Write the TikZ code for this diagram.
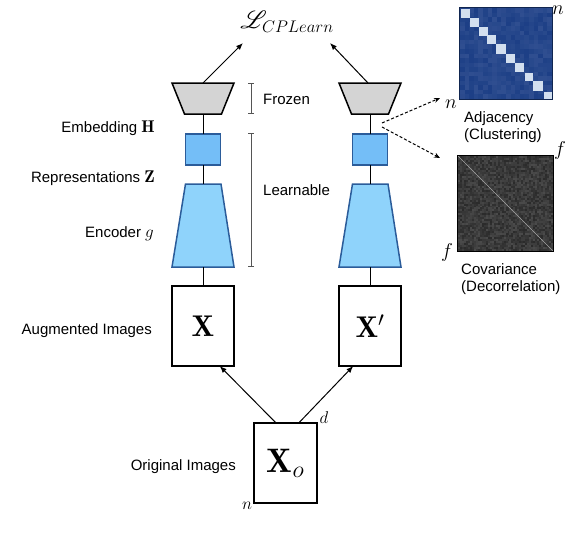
\RequirePackage{fix-cm}
\documentclass[tikz,border=0pt]{standalone}
\usepackage{fontspec}
\usepackage{amsmath}
\usepackage{amssymb}
\usepackage{mathrsfs}
\usetikzlibrary{arrows.meta,calc}
\newfontfamily\helv{Liberation Sans}

\definecolor{headgray}{HTML}{D4D4D4}
\definecolor{embblue}{HTML}{74BEF7}
\definecolor{encblue}{HTML}{8FD3FB}
\definecolor{edgeblue}{HTML}{2B5C9A}
\definecolor{adjblue}{HTML}{1D3F86}
\definecolor{adjdiag}{HTML}{D2DFEF}
\definecolor{bargray}{HTML}{555555}

\newcommand{\lblmath}[1]{{\fontsize{17}{18}\selectfont$#1$}}

\tikzset{
    lbl/.style={font=\helv\fontsize{15}{17.5}\selectfont, inner sep=0pt},
    sym/.style={font=\fontsize{20}{22}\selectfont, inner sep=0pt},
    head/.style={draw, fill=headgray, line width=1.5, line join=miter},
    emb/.style={draw=edgeblue, rectangle, minimum width=35, minimum height=31,
        fill=embblue, line width=1.5, inner sep=0pt, outer sep=0pt},
    enc/.style={draw=edgeblue, fill=encblue, line width=1.5},
    imgbox/.style={draw, rectangle, minimum width=62, minimum height=80,
        line width=1.5, inner sep=0pt, outer sep=0pt},
    arr/.style={-{Latex[length=7,width=5.5]}, line width=1},
    dotarr/.style={-{Stealth[length=6,width=5]}, line width=1, densely dashed},
    brace/.style={{Bar[width=6]}-{Bar[width=6]}, line width=0.8, draw=bargray}
}

\begin{document}
\begin{tikzpicture}[x=1pt, y=-1pt]
    \useasboundingbox (0,0) rectangle (568,546);

    % two branches
    \foreach \s/\x in {l/203, r/370}
        {
            \draw[head] (\x-31, 83) -- (\x+31, 83) -- (\x+18.5, 114) -- (\x-18.5, 114) -- cycle;
            \coordinate (headtop\s) at (\x, 83);
            \coordinate (headbot\s) at (\x, 114);
            \node[name=emb\s, emb] at (\x, 149.5) {};
            \draw[enc] (\x-17.5, 184) -- (\x+18, 184) -- (\x+31, 267) -- (\x-31, 267) -- cycle;
            \coordinate (enctop\s) at (\x, 184);
            \coordinate (encbot\s) at (\x, 267);
            \draw[line width=1] (headbot\s) -- (emb\s.north);
            \draw[line width=1] (emb\s.south) -- (enctop\s);
        }
    \node[name=xl, imgbox, font=\fontsize{30}{32}\selectfont] at (203, 326) {$\mathbf{X}$};
    \node[name=xr, imgbox, font=\fontsize{30}{32}\selectfont] at (370, 326) {$\mathbf{X}'$};
    \node[name=xo, imgbox, minimum width=63, font=\fontsize{34}{36}\selectfont] at (285.5, 463) {$\mathbf{X}_o$};
    \draw[line width=1] (encbotl) -- (xl.north);
    \draw[line width=1] (encbotr) -- (xr.north);

    \draw[arr] ($(xo.north west)!0.35!(xo.north east)$) -- ($(xl.south west)!0.77!(xl.south east)$);
    \draw[arr] ($(xo.north west)!0.71!(xo.north east)$) -- ($(xr.south west)!0.23!(xr.south east)$);
    \node[name=dlab, sym, font=\fontsize{17}{18}\selectfont] at (324, 418) {$d$};
    \node[name=nlab, sym, font=\fontsize{17}{18}\selectfont] at (247, 506) {$n$};

    % loss
    \node[name=loss, inner sep=0pt, font=\fontsize{24}{26}\selectfont] at (287, 22) {$\mathscr{L}_{CPLearn}$};
    \coordinate (lossl) at (243, 43);
    \coordinate (lossr) at (330, 43);
    \draw[arr] (headtopl) -- (lossl);
    \draw[arr] ([xshift=-2]headtopr) -- (lossr);

    % brackets
    \draw[brace] (251, 83) -- (251, 114);
    \draw[brace] (251, 133) -- (251, 267);
    \node[name=frozen, lbl, anchor=base west] at (263, 104) {Frozen};
    \node[name=learn, lbl, anchor=base west] at (263, 195) {Learnable};

    % left labels
    \node[name=lemb, lbl, anchor=base east] at (155, 132) {Embedding \lblmath{\mathbf{H}}};
    \node[name=lrep, lbl, anchor=base east] at (155, 182) {Representations \lblmath{\mathbf{Z}}};
    \node[name=lenc, lbl, anchor=base east] at (154, 237) {Encoder \lblmath{g}};
    \node[name=laug, lbl, anchor=base east] at (152, 334) {Augmented Images};
    \node[name=lorig, lbl, anchor=base east] at (236, 470) {Original Images};

    % adjacency matrix
    \node[name=adj, draw, rectangle, minimum width=92, minimum height=91, fill=adjblue,
        inner sep=0pt, line width=0.8] at (506, 53.5) {};
    \pgfmathsetseed{11}
    \foreach \i in {0,...,19}
        \foreach \j in {0,...,19}
            {
                \pgfmathrandominteger{\r}{0}{8}
                \fill[white!\r!adjblue] (460+\i*4.6, 8+\j*4.55) rectangle +(4.7, 4.65);
            }
    \foreach \a/\b in {461/469.5, 470/479, 479/487.5, 487/495.5, 496/506, 506/514.5, 515/524, 525/532.5, 533/543, 544/551.5}
        {
            \fill[adjdiag] (\a, \a-452) rectangle (\b, \b-452);
        }
    \draw[line width=0.8, draw=adjblue!60!black] (adj.north west) rectangle (adj.south east);
    \node[name=adjn1, sym] at (558, 10) {$n$};
    \node[name=adjn2, sym] at (451, 104) {$n$};
    \node[name=adjlab, lbl, align=left, anchor=north west] at (464, 111) {Adjacency\\(Clustering)};

    % covariance matrix
    \node[name=cov, draw, rectangle, minimum width=95, minimum height=95, fill=black!75,
        inner sep=0pt, line width=0.8] at (505.5, 203.5) {};
    \foreach \i in {0,...,47}
        \foreach \j in {0,...,47}
            {
                \pgfmathrandominteger{\r}{17}{29}
                \fill[white!\r!black] (458+\i*1.98, 156+\j*1.98) rectangle +(2.04, 2.04);
            }
    \draw[white!65!black, line width=0.5] (cov.north west) -- (cov.south east);
    \draw[line width=0.8] (cov.north west) rectangle (cov.south east);
    \node[name=covf1, sym] at (560, 150) {$f$};
    \node[name=covf2, sym] at (447, 252) {$f$};
    \node[name=covlab, lbl, align=left, anchor=north west] at (461, 263) {Covariance\\(Decorrelation)};

    % taps to the matrices
    \coordinate (tap1) at (382, 123);
    \coordinate (tap2) at (382, 127);
    \coordinate (adjin) at (440, 98);
    \coordinate (covin) at (440, 158);
    \draw[dotarr] (tap1) -- (adjin);
    \draw[dotarr] (tap2) -- (covin);
\end{tikzpicture}
\end{document}
